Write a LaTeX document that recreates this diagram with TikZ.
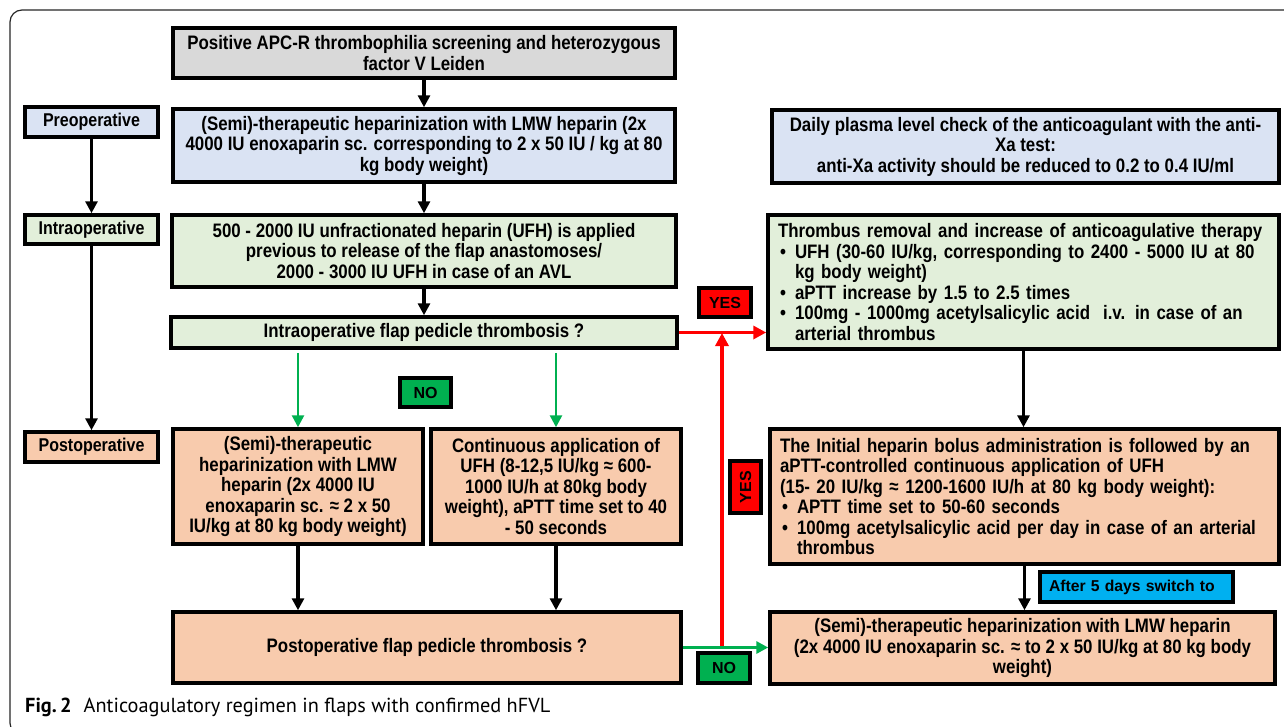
\documentclass[tikz,border=0pt]{standalone}
\usepackage{fontspec}
\setmainfont{Liberation Sans}
\newfontfamily\nar{Liberation Sans}[FakeStretch=0.865]
\newfontfamily\capfont{PT Sans}
\usetikzlibrary{arrows.meta}
\definecolor{cgray}{HTML}{D9D9D9}
\definecolor{cblue}{HTML}{DAE3F3}
\definecolor{cgreen}{HTML}{E2EFDA}
\definecolor{corange}{HTML}{F8CBAD}
\definecolor{cred}{HTML}{FF0000}
\definecolor{cgo}{HTML}{00B050}
\definecolor{ccyan}{HTML}{00B0F0}
\newcommand\bul{\makebox[17pt][l]{\hspace{2pt}•}}
\newcommand\ind{\hspace*{17pt}}
\tikzset{
  box/.style={draw=black, line width=3.5pt, inner sep=0pt, align=center,
    font=\nar\bfseries\fontsize{19.5}{20.5}\selectfont},
  lbox/.style={box, align=left},
  lab/.style={draw=black, line width=3.5pt, inner sep=0pt,
    font=\bfseries\fontsize{16}{19}\selectfont},
  plab/.style={lab, font=\nar\bfseries\fontsize{18.5}{20.5}\selectfont},
  arr/.style={line width=3.2pt, -{Triangle[length=12pt,width=12pt]}},
  garr/.style={line width=2.6pt, draw=cgo, -{Triangle[length=12pt,width=12pt]}},
  rarr/.style={line width=3.6pt, draw=cred, -{Triangle[length=13pt,width=13pt]}},
}
\begin{document}
\begin{tikzpicture}[x=1pt,y=-1pt]
\useasboundingbox (0,0) rectangle (1284,726);
\begin{scope}
\clip (0,0) rectangle (1284,726);
\draw[line width=1.2pt, draw=black!85, rounded corners=12pt] (10,10) rectangle (1310,735);
\end{scope}

% phase labels
\node[plab, fill=cblue, minimum width=133, minimum height=30] (preL) at (91.5,122) {Preoperative};
\node[plab, fill=cgreen, minimum width=133, minimum height=29] (intraL) at (91.5,229.5) {Intraoperative};
\node[plab, fill=corange, minimum width=133, minimum height=30] (postL) at (91.5,447) {Postoperative};

% left column
\node[box, fill=cgray, minimum width=502, minimum height=50] (top) at (424,53)
  {Positive APC-R thrombophilia screening and heterozygous\\factor V Leiden};
\node[box, fill=cblue, minimum width=502, minimum height=73] (pre) at (424,145.5)
  {(Semi)-therapeutic heparinization with LMW heparin (2x\\4000 IU enoxaparin sc. corresponding to 2 x 50 IU / kg at 80\\kg body weight)};
\node[box, fill=cgreen, minimum width=504, minimum height=72] (intra) at (424,251)
  {500 - 2000 IU unfractionated heparin (UFH) is applied\\previous to release of the flap anastomoses/\\2000 - 3000 IU UFH in case of an AVL};
\node[box, fill=cgreen, minimum width=506, minimum height=31] (intraT) at (424,332.5)
  {Intraoperative flap pedicle thrombosis ?};
\node[box, fill=corange, minimum width=250, minimum height=115] (post1) at (298,486.5)
  {(Semi)-therapeutic\\heparinization with LMW\\heparin (2x 4000 IU\\enoxaparin sc. ≈ 2 x 50\\IU/kg at 80 kg body weight)};
\node[box, fill=corange, minimum width=250, minimum height=115] (post2) at (556,486.5)
  {Continuous application of\\UFH (8-12,5 IU/kg ≈ 600-\\1000 IU/h at 80kg body\\weight), aPTT time set to 40\\- 50 seconds};
\node[box, fill=corange, minimum width=508, minimum height=71] (postT) at (427,647.5)
  {Postoperative flap pedicle thrombosis ?};

% right column
\node[box, fill=cblue, minimum width=507, minimum height=73] (daily) at (1025.5,146.5)
  {Daily plasma level check of the anticoagulant with the anti-\\Xa test:\\anti-Xa activity should be reduced to 0.2 to 0.4 IU/ml};
\node[lbox, fill=cgreen, minimum width=511, minimum height=134, text width=491] (thromb) at (1023.5,282)
  {Thrombus removal and increase of anticoagulative therapy\\
   \bul UFH (30-60 IU/kg, corresponding to 2400 - 5000 IU at 80\\
   \ind kg body weight)\\
   \bul aPTT increase by 1.5 to 2.5 times\\
   \bul 100mg - 1000mg acetylsalicylic acid\ \ i.v. in case of an\\
   \ind arterial thrombus};
\node[lbox, fill=corange, minimum width=509, minimum height=135, text width=489] (initial) at (1024.5,496.5)
  {The Initial heparin bolus administration is followed by an\\
   aPTT-controlled continuous application of UFH\\
   (15- 20 IU/kg ≈ 1200-1600 IU/h at 80 kg body weight):\\
   \bul APTT time set to 50-60 seconds\\
   \bul 100mg acetylsalicylic acid per day in case of an arterial\\
   \ind thrombus};
\node[box, fill=corange, minimum width=505, minimum height=72] (final) at (1022.5,648)
  {(Semi)-therapeutic heparinization with LMW heparin\\(2x 4000 IU enoxaparin sc. ≈ to 2 x 50 IU/kg at 80 kg body\\weight)};
\node[lab, fill=ccyan, minimum width=193, minimum height=30, font=\bfseries\fontsize{15.7}{18}\selectfont, align=left, text width=175] (after) at (1136.5,587)
  {After 5 days switch to};

% yes / no labels
\node[lab, fill=cred, minimum width=52, minimum height=29] (yes1) at (725,302.5) {YES};
\node[lab, fill=cred, minimum width=52, minimum height=31, rotate=90] (yes2) at (745.5,487) {YES};
\node[lab, fill=cgo, minimum width=51, minimum height=29] (no1) at (425.5,392.5) {NO};
\node[lab, fill=cgo, minimum width=52, minimum height=30] (no2) at (724,668) {NO};

% connectors
\draw[arr] (preL) -- (intraL);
\draw[arr] (intraL) -- (postL);
\draw[arr] (top) -- (pre);
\draw[arr] (pre) -- (intra);
\draw[arr] (intra) -- (intraT);
\draw[garr, shorten <=3pt] (intraT.south -| post1.north) -- (post1.north);
\draw[garr, shorten <=3pt] (intraT.south -| post2.north) -- (post2.north);
\draw[arr] (post1.south) -- (post1.south |- postT.north);
\draw[arr] (post2.south) -- (post2.south |- postT.north);
\draw[rarr] (intraT.east) -- (intraT.east -| thromb.west);
\coordinate (rbot) at (722,648);
\coordinate (rtop) at (722,333);
\draw[rarr] (rbot) -- (rtop);
\draw[garr, line width=3.4pt] (postT.east) -- (postT.east -| final.west);
\draw[arr] (thromb.south) -- (thromb.south |- initial.north);
\draw[arr] (initial.south) -- (initial.south |- final.north);

% caption
\node[anchor=base west, inner sep=0pt, font=\capfont\fontsize{20.3}{22}\selectfont] (cap) at (25,712)
  {\textbf{Fig.\,2}\hspace{12pt}Anticoagulatory regimen in flaps with confirmed hFVL};
\end{tikzpicture}
\end{document}
